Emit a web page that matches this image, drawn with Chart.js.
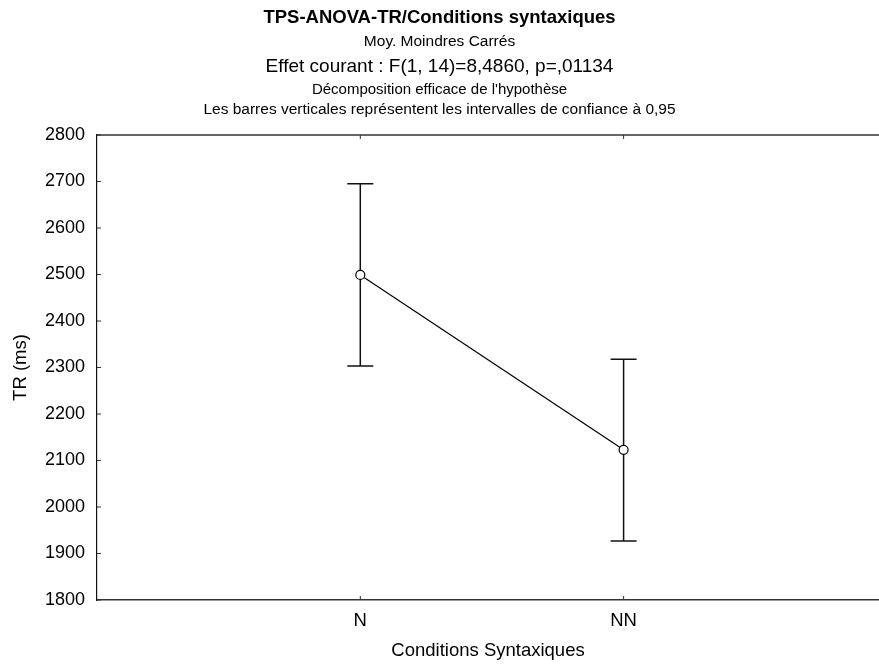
<!DOCTYPE html>
<html>
<head>
<meta charset="utf-8">
<script src="https://cdn.jsdelivr.net/npm/chart.js@4"></script>
<style>
  body { margin: 0; background: #fff; }
  #wrap { width: 879px; height: 666px; }
</style>
</head>
<body>
<div id="wrap"><canvas id="mychart"></canvas></div>
<script>
const categories = ['N', 'NN'];
const means = [2499, 2123];
const ciLow = [2303, 1927];
const ciHigh = [2695, 2318];
const yTicks = [1800, 1900, 2000, 2100, 2200, 2300, 2400, 2500, 2600, 2700, 2800];

const titleLines = [
  { text: 'TPS-ANOVA-TR/Conditions syntaxiques', font: 'bold 18.5px "Liberation Sans", Arial', y: 18 },
  { text: 'Moy. Moindres Carrés', font: '15.5px "Liberation Sans", Arial', y: 42 },
  { text: 'Effet courant : F(1, 14)=8,4860, p=,01134', font: '19px "Liberation Sans", Arial', y: 67 },
  { text: "Décomposition efficace de l'hypothèse", font: '15px "Liberation Sans", Arial', y: 90 },
  { text: 'Les barres verticales représentent les intervalles de confiance à 0,95', font: '15.5px "Liberation Sans", Arial', y: 110 }
];

const points = categories.map((c, i) => ({ x: i + 1, y: means[i] }));

// titles, error bars and inward ticks
const extras = {
  id: 'extras',
  beforeDatasetsDraw(chart) {
    const ctx = chart.ctx, xs = chart.scales.x, ys = chart.scales.y;
    ctx.save();
    ctx.strokeStyle = '#111';
    ctx.lineWidth = 1.5;
    categories.forEach((c, i) => {
      const px = xs.getPixelForValue(i + 1);
      const top = ys.getPixelForValue(ciHigh[i]);
      const bot = ys.getPixelForValue(ciLow[i]);
      ctx.beginPath();
      ctx.moveTo(px, top); ctx.lineTo(px, bot);
      ctx.moveTo(px - 13, top); ctx.lineTo(px + 13, top);
      ctx.moveTo(px - 13, bot); ctx.lineTo(px + 13, bot);
      ctx.stroke();
    });
    ctx.restore();
  },
  afterDraw(chart) {
    const ctx = chart.ctx, xs = chart.scales.x, ys = chart.scales.y;
    const a = chart.chartArea;
    ctx.save();
    ctx.fillStyle = '#000';
    ctx.textAlign = 'center';
    ctx.textBaseline = 'middle';
    titleLines.forEach(l => {
      ctx.font = l.font;
      ctx.fillText(l.text, chart.width / 2, l.y);
    });
    ctx.strokeStyle = '#333';
    ctx.lineWidth = 1.5;
    ctx.beginPath();
    ctx.moveTo(a.left, a.top); ctx.lineTo(chart.width, a.top);
    ctx.stroke();
    ctx.lineWidth = 1;
    ctx.beginPath();
    yTicks.forEach(v => {
      const py = ys.getPixelForValue(v);
      ctx.moveTo(a.left, py); ctx.lineTo(a.left + 4, py);
    });
    categories.forEach((c, i) => {
      const px = xs.getPixelForValue(i + 1);
      ctx.moveTo(px, a.bottom); ctx.lineTo(px, a.bottom - 4);
      ctx.moveTo(px, a.top); ctx.lineTo(px, a.top + 4);
    });
    ctx.stroke();
    ctx.restore();
  }
};

new Chart(document.getElementById('mychart'), {
  type: 'line',
  data: {
    datasets: [{
      data: points,
      borderColor: '#000',
      borderWidth: 1.2,
      pointRadius: 4.5,
      pointBackgroundColor: '#fff',
      pointBorderColor: '#000',
      pointBorderWidth: 1.2,
      fill: false,
      tension: 0
    }]
  },
  options: {
    responsive: true,
    maintainAspectRatio: false,
    animation: false,
    layout: { autoPadding: false, padding: { top: 135, right: 0, left: 0, bottom: 0 } },
    plugins: { legend: { display: false }, tooltip: { enabled: false } },
    scales: {
      x: {
        type: 'linear',
        min: 0,
        max: 2.97,
        afterBuildTicks: s => { s.ticks = categories.map((c, i) => ({ value: i + 1 })); },
        afterFit: s => { s.height = 66; },
        ticks: {
          callback: v => categories[v - 1] || '',
          color: '#000',
          font: { family: '"Liberation Sans", Arial', size: 18.5 },
          padding: 10,
          maxRotation: 0
        },
        grid: { drawOnChartArea: false, drawTicks: false },
        border: { color: '#333', width: 1.5 },
        title: {
          display: true,
          text: 'Conditions Syntaxiques',
          color: '#000',
          font: { family: '"Liberation Sans", Arial', size: 18.5 },
          padding: { top: 4, bottom: 4 }
        }
      },
      y: {
        min: 1800,
        max: 2800,
        afterBuildTicks: s => { s.ticks = yTicks.map(v => ({ value: v })); },
        afterFit: s => { s.width = 97; },
        ticks: {
          callback: v => String(v),
          color: '#000',
          font: { family: '"Liberation Sans", Arial', size: 18 },
          padding: 12
        },
        grid: { drawOnChartArea: false, drawTicks: false },
        border: { color: '#111', width: 1.2 },
        title: {
          display: true,
          text: 'TR (ms)',
          color: '#000',
          font: { family: '"Liberation Sans", Arial', size: 18.5 },
          padding: { top: 10, bottom: 0 }
        }
      }
    }
  },
  plugins: [extras]
});
</script>
</body>
</html>
